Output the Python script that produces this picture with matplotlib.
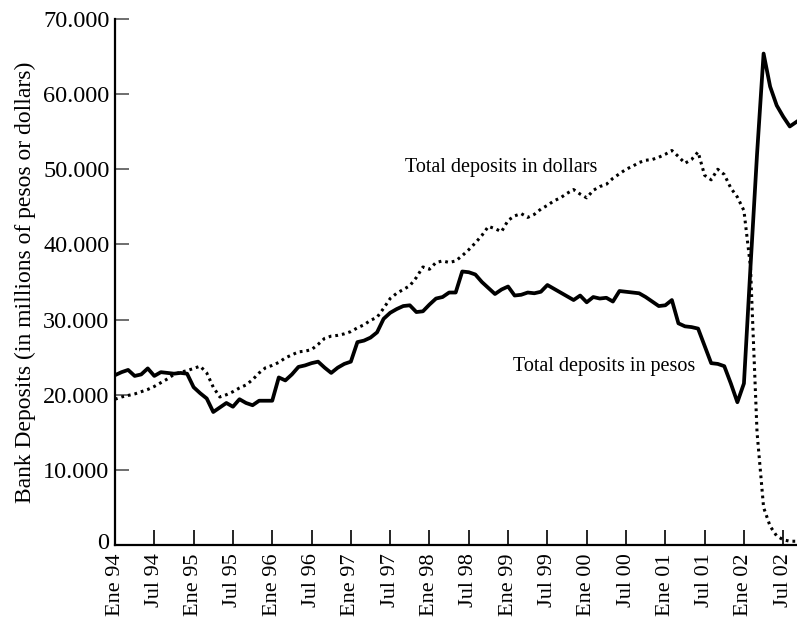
import matplotlib
matplotlib.use("Agg")
import matplotlib.pyplot as plt
import matplotlib.transforms as mtrans
import numpy as np

# monthly data, Jan 1994 .. Sep 2002 (millions)
months = np.arange(105)

pesos = [22600, 23000, 23300, 22500, 22700, 23500, 22500, 23000, 22900, 22800,
         22900, 22800, 21000, 20200, 19500, 17700, 18300, 18900, 18400, 19400,
         18900, 18600, 19200, 19200, 19200, 22300, 21900, 22700, 23700, 23900,
         24200, 24400, 23600, 22900, 23600, 24100, 24400, 27000, 27200, 27600,
         28300, 30100, 30900, 31400, 31800, 31900, 31000, 31100, 32000, 32800,
         33000, 33600, 33600, 36400, 36300, 36000, 35000, 34200, 33400, 34000,
         34400, 33200, 33300, 33600, 33500, 33700, 34600, 34100, 33600, 33100,
         32600, 33200, 32300, 33000, 32800, 32900, 32400, 33800, 33700, 33600,
         33500, 33000, 32400, 31800, 31900, 32600, 29500, 29100, 29000, 28800,
         26500, 24200, 24100, 23800, 21500, 19000, 21500, 37000, 52000, 65400,
         61000, 58500, 57000, 55700, 56300]

dollars = [19400, 19700, 19900, 20100, 20400, 20700, 21100, 21600, 22100, 22700,
           23000, 23200, 23500, 23800, 22900, 21000, 19700, 20000, 20400, 20900,
           21300, 22000, 22900, 23600, 23900, 24300, 24900, 25300, 25700, 25800,
           26000, 26700, 27500, 27800, 27900, 28100, 28400, 28900, 29300, 29900,
           30300, 31500, 32800, 33500, 34000, 34500, 35600, 37000, 36700, 37600,
           37800, 37600, 37800, 38500, 39300, 40200, 41200, 42400, 42100, 41700,
           43200, 43800, 44100, 43600, 44000, 44700, 45200, 45800, 46200, 46800,
           47300, 46700, 46200, 47200, 47700, 48000, 48800, 49400, 50000, 50400,
           50900, 51200, 51300, 51600, 52000, 52500, 51700, 50800, 51300, 52300,
           49200, 48600, 50000, 49300, 47500, 46300, 44500, 37000, 15000, 5000,
           2500, 1200, 700, 500, 500]

tick_labels = ['Ene 94', 'Jul 94', 'Ene 95', 'Jul 95', 'Ene 96', 'Jul 96',
               'Ene 97', 'Jul 97', 'Ene 98', 'Jul 98', 'Ene 99', 'Jul 99',
               'Ene 00', 'Jul 00', 'Ene 01', 'Jul 01', 'Ene 02', 'Jul 02']
tick_pos = np.arange(0, 6 * len(tick_labels), 6)

plt.rcParams['font.family'] = ['Liberation Serif', 'DejaVu Serif']

fig = plt.figure(figsize=(7.97, 6.27), dpi=100)
ax = fig.add_axes([115 / 797, 82 / 627, (797 - 115) / 797, (545 - 19) / 627])

ax.plot(months, pesos, color='black', lw=2.7, solid_joinstyle='round')
ax.plot(months, dollars, color='black', lw=2.2, linestyle=(0, (0.9, 1.3)))

ax.set_xlim(0, 104.1)
ax.set_ylim(0, 70000)

ax.set_yticks(np.arange(0, 70001, 10000))
ax.set_yticklabels(['0'] + ['%d.000' % v for v in range(10, 71, 10)])
ax.set_xticks(tick_pos)
ax.set_xticklabels(tick_labels, rotation=90)

ax.tick_params(axis='x', direction='in', length=11, width=1.2, labelsize=16, pad=6)
ax.tick_params(axis='y', direction='in', length=10, width=1.2, color='#555555',
               labelsize=17.5, pad=4)
# lift the "0" a little so it clears "Ene 94"
zero_lbl = ax.get_yticklabels()[0]
zero_lbl.set_transform(zero_lbl.get_transform() + mtrans.ScaledTranslation(0, 3 / 72, fig.dpi_scale_trans))

for s in ['top', 'right']:
    ax.spines[s].set_visible(False)
for s in ['left', 'bottom']:
    ax.spines[s].set_linewidth(1.6)

ax.set_ylabel('Bank Deposits (in millions of pesos or dollars)', fontsize=17, labelpad=5)

ax.text(44.3, 50200, 'Total deposits in dollars', fontsize=14.5, va='center', ha='left')
ax.text(60.8, 23700, 'Total deposits in pesos', fontsize=14.5, va='center', ha='left')

fig.savefig('out.png', dpi=100)
